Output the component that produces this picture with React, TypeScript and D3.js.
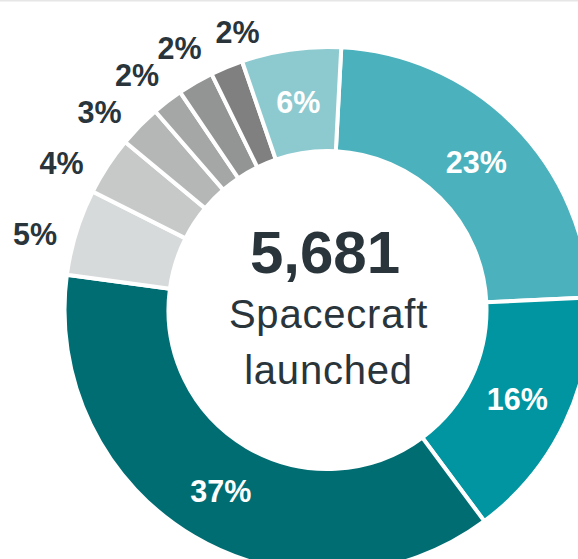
import React from 'react';
import * as d3 from 'd3';

// share of spacecraft launched, clockwise from the top
const shares = [23.4, 15.6, 37.3, 5.3, 3.6, 2.6, 1.9, 2.2, 2.0, 6.1];
const labels = ['23%', '16%', '37%', '5%', '4%', '3%', '2%', '2%', '2%', '6%'];
const colors = [
  '#4BB1BC', '#0095A0', '#006D73', '#D7DADB', '#C7C9C9',
  '#B5B7B7', '#A5A7A7', '#939594', '#808080', '#8DCAD0',
];
// which labels sit outside the ring
const outside = [false, false, false, true, true, true, true, true, true, false];
const totalLaunched = 5681;
const centerLines = ['Spacecraft', 'launched'];

// small hand nudges for the crowded outside labels: [degrees, px]
const labelNudge: Record<number, [number, number]> = {
  3: [-2.8, 0],
  4: [-4.3, 2],
  5: [-3.4, 0],
  6: [-1.6, 0],
  7: [0.7, -1],
  8: [4.6, -10],
};

const W = 578;
const H = 559;
const cx = 327.5;
const cy = 310;
const outerR = 263;
const innerR = 159;
const textDark = '#29353B';

const App: React.FC = () => {
  const pie = d3
    .pie<number>()
    .sort(null)
    .value((d) => d)
    .startAngle((3 * Math.PI) / 180)
    .endAngle((363 * Math.PI) / 180);
  const arcs = pie(shares);

  const arc = d3.arc<d3.PieArcDatum<number>>().innerRadius(innerR).outerRadius(outerR);
  const insideArc = d3.arc<d3.PieArcDatum<number>>().innerRadius(210).outerRadius(210);

  const fmt = d3.format(',');

  return (
    <svg
      width={W}
      height={H}
      style={{ position: 'absolute', left: 0, top: 0 }}
      fontFamily="'Liberation Sans', Arial, sans-serif"
    >
      <rect x={0} y={0} width={W} height={H} fill="#fff" />
      <rect x={0} y={0} width={W} height={1.5} fill="#E6E6E6" />
      <g transform={`translate(${cx},${cy})`}>
        {arcs.map((a, i) => (
          <path key={i} d={arc(a) || ''} fill={colors[i]} stroke="#fff" strokeWidth={4} />
        ))}
        {arcs.map((a, i) => {
          let x: number;
          let y: number;
          if (outside[i]) {
            const [dA, dR] = labelNudge[i] || [0, 0];
            const ang = (a.startAngle + a.endAngle) / 2 + (dA * Math.PI) / 180;
            const r = 302 + dR;
            x = Math.sin(ang) * r;
            y = -Math.cos(ang) * r;
          } else {
            [x, y] = insideArc.centroid(a);
          }
          return (
            <text
              key={`l${i}`}
              x={x}
              y={y}
              dy="0.35em"
              textAnchor="middle"
              fontSize={30.5}
              fontWeight="bold"
              fill={outside[i] ? textDark : '#fff'}
            >
              {labels[i]}
            </text>
          );
        })}
        <text x={-2.5} y={-36.7} textAnchor="middle" fontSize={60} fontWeight="bold" fill={textDark}>
          {fmt(totalLaunched)}
        </text>
        {centerLines.map((t, i) => (
          <text
            key={t}
            x={1}
            y={17.7 + i * 56.6}
            textAnchor="middle"
            fontSize={40}
            letterSpacing={0.8}
            fill={textDark}
          >
            {t}
          </text>
        ))}
      </g>
    </svg>
  );
};

export default App;
